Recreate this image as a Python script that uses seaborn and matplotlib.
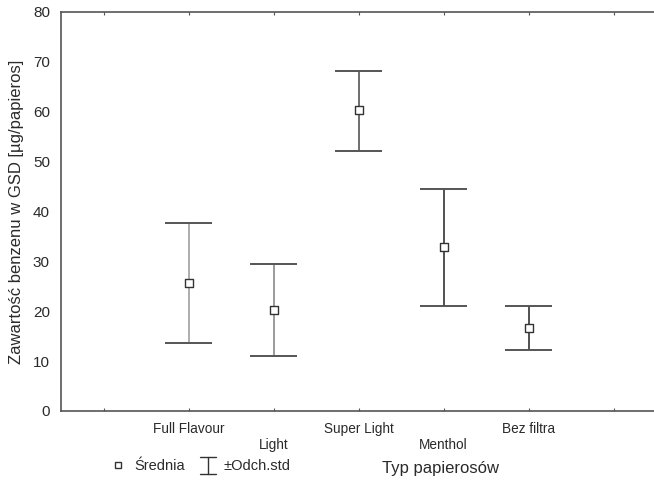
import numpy as np
import pandas as pd
import seaborn as sns
import matplotlib.pyplot as plt
from matplotlib.lines import Line2D
from matplotlib.legend_handler import HandlerBase

# Data
categories = ['Full Flavour', 'Light', 'Super Light', 'Menthol', 'Bez filtra']
means = [25.6, 20.2, 60.3, 32.8, 16.6]
upper = [37.7, 29.4, 68.1, 44.6, 21.0]
lower = [13.7, 11.0, 52.2, 21.0, 12.3]
bar_colors = ['#a0a0a0', '#8a8a8a', '#555555', '#333333', '#333333']
y_ticks = [0, 10, 20, 30, 40, 50, 60, 70, 80]


class HandlerWhisker(HandlerBase):
    """Legend icon: vertical line with a cap at top and bottom."""
    def create_artists(self, legend, orig_handle, xdescent, ydescent,
                       width, height, fontsize, trans):
        cx = width / 2 - xdescent
        top = height * 1.25 - ydescent
        bot = -height * 0.35 - ydescent
        half = width * 0.45
        arts = [
            Line2D([cx - half, cx + half], [top, top]),
            Line2D([cx, cx], [bot, top]),
            Line2D([cx - half, cx + half], [bot, bot]),
        ]
        for a in arts:
            a.set_color('#333333')
            a.set_linewidth(1.0)
            a.set_transform(trans)
        return arts


sns.set_style('white')
plt.rcParams['font.family'] = ['Liberation Sans', 'DejaVu Sans']
plt.rcParams['font.size'] = 9.5

df = pd.DataFrame({'typ': categories, 'mean': means, 'upper': upper, 'lower': lower})
df['pos'] = np.arange(1, len(categories) + 1)

fig = plt.figure(figsize=(6.54, 4.83), dpi=100)
W, H = 654, 483
ax = fig.add_axes([61 / W, (H - 411) / H, (W - 61) / W, (411 - 12) / H])

# Whiskers (+/- std)
for i, row in df.iterrows():
    ax.vlines(row['pos'], row['lower'], row['upper'], color=bar_colors[i], lw=1.2, zorder=2)
    ax.hlines([row['lower'], row['upper']], row['pos'] - 0.28, row['pos'] + 0.28,
              color='#555555', lw=1.4, zorder=2)

# Means
sns.scatterplot(data=df, x='pos', y='mean', marker='s', s=30, color='white',
                edgecolor='#333333', linewidth=1.0, zorder=3, ax=ax, legend=False)

ax.set_xlim(-0.5, (W - 61) / 85 - 0.5)
ax.set_ylim(0, 80)
ax.set_yticks(y_ticks)
ax.set_xticks(range(0, 7))
labels = [''] + [c if i % 2 == 0 else '\n' + c for i, c in enumerate(categories)] + ['']
ax.set_xticklabels(labels, color='#2a2a2a', fontsize=9.8)
ax.tick_params(axis='x', direction='in', length=2, top=True, bottom=True,
               color='#555555', pad=8)
ax.tick_params(axis='y', length=0, pad=8, labelsize=11, labelcolor='#2a2a2a')
for side in ['left', 'bottom', 'top']:
    ax.spines[side].set_color('#555555')
    ax.spines[side].set_linewidth(1.2)
ax.spines['right'].set_visible(False)

ax.set_ylabel('Zawartość benzenu w GSD [µg/papieros]', fontsize=12, color='#2a2a2a')
ax.yaxis.set_label_coords(-0.062, 0.5)
ax.set_xlabel('Typ papierosów', fontsize=12, color='#2a2a2a')
ax.xaxis.set_label_coords(0.64, -0.125)

# Legend
mean_handle = Line2D([], [], marker='s', ls='none', mfc='white', mec='#333333', ms=5)
whisker_handle = Line2D([], [])
fig.legend([mean_handle, whisker_handle], ['Średnia', '±Odch.std'], loc='center left',
           bbox_to_anchor=(96 / W, 1 - 466 / H), ncol=2, frameon=False,
           handlelength=1.2, handletextpad=0.5, columnspacing=1.0, fontsize=10.5,
           labelcolor='#2a2a2a',
           handler_map={whisker_handle: HandlerWhisker()})

fig.savefig('out.png', dpi=100)
